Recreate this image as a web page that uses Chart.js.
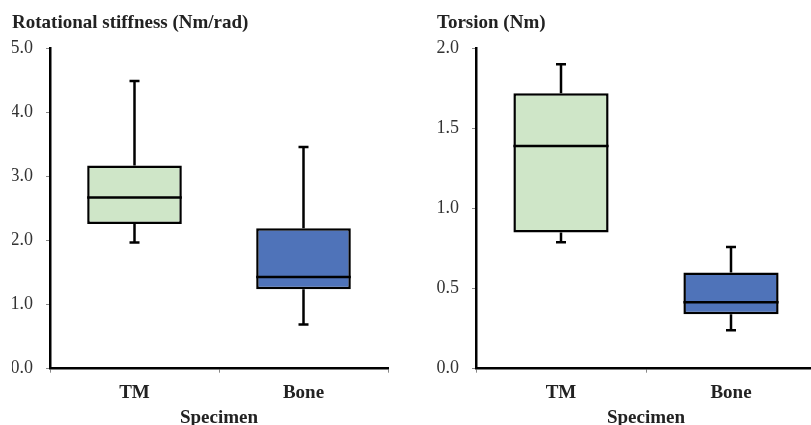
<!DOCTYPE html>
<html>
<head>
<meta charset="utf-8">
<script src="https://cdn.jsdelivr.net/npm/chart.js@4/dist/chart.umd.min.js"></script>
<style>
  html, body { margin: 0; padding: 0; background: #fff; overflow: hidden; }
  #wrap { position: relative; width: 811px; height: 425px; overflow: hidden; }
  .box { position: absolute; top: 0; height: 425px; }
</style>
</head>
<body>
<div id="wrap">
  <div class="box" style="left:0;width:405px"><canvas id="stiff"></canvas></div>
  <div class="box" style="left:425px;width:400px"><canvas id="torsion"></canvas></div>
</div>
<script>
// specimens
var categories = ["TM", "Bone"];
var fills = ["#cfe6c8", "#4f73b9"];

// rotational stiffness (Nm/rad)
var stiffMin = [1.97, 0.69];
var stiffQ1 = [2.26, 1.24];
var stiffMed = [2.67, 1.43];
var stiffQ3 = [3.17, 2.19];
var stiffMax = [4.49, 3.46];
var stiffTicks = [0, 1, 2, 3, 4, 5];

// torsion (Nm)
var torMin = [0.79, 0.24];
var torQ1 = [0.85, 0.34];
var torMed = [1.39, 0.415];
var torQ3 = [1.72, 0.60];
var torMax = [1.90, 0.76];
var torTicks = [0, 0.5, 1, 1.5, 2];

var serif = "'Liberation Serif', 'DejaVu Serif', serif";

// whiskers + median line, drawn from the scales
var boxExtras = {
  id: 'boxExtras',
  afterDatasetsDraw: function(chart) {
    var ctx = chart.ctx, y = chart.scales.y;
    var st = chart.options.plugins.boxExtras;
    var meta = chart.getDatasetMeta(0);
    ctx.save();
    ctx.strokeStyle = '#000';
    ctx.lineWidth = 2.5;
    meta.data.forEach(function(bar, i) {
      var cx = bar.x, half = bar.width / 2, cap = 5;
      var pMin = y.getPixelForValue(st.min[i]);
      var pMax = y.getPixelForValue(st.max[i]);
      var pQ1 = y.getPixelForValue(st.q1[i]);
      var pQ3 = y.getPixelForValue(st.q3[i]);
      var pMed = y.getPixelForValue(st.med[i]);
      ctx.beginPath();
      ctx.moveTo(cx, pQ3); ctx.lineTo(cx, pMax);
      ctx.moveTo(cx - cap, pMax); ctx.lineTo(cx + cap, pMax);
      ctx.moveTo(cx, pQ1); ctx.lineTo(cx, pMin);
      ctx.moveTo(cx - cap, pMin); ctx.lineTo(cx + cap, pMin);
      ctx.moveTo(cx - half, pMed); ctx.lineTo(cx + half, pMed);
      ctx.stroke();
    });
    ctx.restore();
  }
};

function makeChart(id, title, q1, med, q3, mn, mx, ticks, yMax, yWidth, padRight) {
  var ranges = q1.map(function(v, i) { return [v, q3[i]]; });
  return new Chart(document.getElementById(id), {
    type: 'bar',
    data: {
      labels: categories,
      datasets: [{
        data: ranges,
        backgroundColor: fills,
        borderColor: '#000',
        borderWidth: 2.5,
        borderSkipped: false,
        categoryPercentage: 1,
        barPercentage: 0.56
      }]
    },
    options: {
      responsive: false,
      animation: false,
      devicePixelRatio: 1,
      layout: { padding: { left: 12, right: padRight, top: 0, bottom: 0 } },
      plugins: {
        legend: { display: false },
        tooltip: { enabled: false },
        title: {
          display: true, text: title, align: 'start', color: '#222',
          font: { family: serif, size: 19, weight: 'bold' },
          padding: { top: 12, bottom: 13.5 }
        },
        boxExtras: { min: mn, q1: q1, med: med, q3: q3, max: mx }
      },
      scales: {
        x: {
          grid: { display: true, drawOnChartArea: false, tickLength: 4, color: '#888', lineWidth: 1 },
          border: { color: '#000', width: 2.5 },
          ticks: { color: '#222', font: { family: serif, size: 19, weight: 'bold' }, padding: 9 },
          title: { display: true, text: 'Specimen', color: '#222', font: { family: serif, size: 19, weight: 'bold' }, padding: { top: 2, bottom: -4 } },
          afterFit: function(s) { s.height = 56.3; }
        },
        y: {
          min: 0, max: yMax,
          afterBuildTicks: function(s) { s.ticks = ticks.map(function(v) { return { value: v }; }); },
          grid: { display: true, drawOnChartArea: false, tickLength: 4, color: '#888', lineWidth: 1 },
          border: { color: '#000', width: 2.5 },
          ticks: { color: '#333', font: { family: serif, size: 18 }, padding: 13,
            callback: function(v) { return Number(v).toFixed(1); } },
          afterFit: function(s) { s.width = yWidth; }
        }
      }
    },
    plugins: [boxExtras]
  });
}

document.getElementById('stiff').width = 405;
document.getElementById('stiff').height = 425;
document.getElementById('torsion').width = 400;
document.getElementById('torsion').height = 425;

makeChart('stiff', 'Rotational stiffness (Nm/rad)', stiffQ1, stiffMed, stiffQ3, stiffMin, stiffMax, stiffTicks, 5, 38, 17);
makeChart('torsion', 'Torsion (Nm)', torQ1, torMed, torQ3, torMin, torMax, torTicks, 2, 39, 9);
</script>
</body>
</html>
